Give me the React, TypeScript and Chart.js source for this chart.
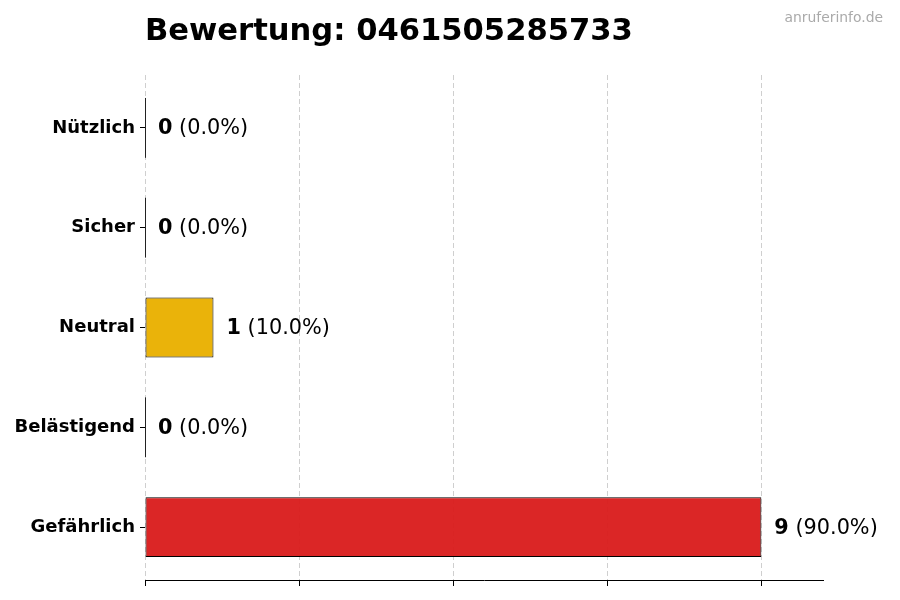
import React, { useEffect, useRef } from "react";
import { Chart, registerables } from "chart.js";

Chart.register(...registerables);

const TITLE = "Bewertung: 0461505285733";
const WATERMARK = "anruferinfo.de";
const categories = ["Nützlich", "Sicher", "Neutral", "Belästigend", "Gefährlich"];
const counts = [0, 0, 1, 0, 9];
const percentages = [0.0, 0.0, 10.0, 0.0, 90.0];
const barColors = [
  "rgba(22,163,74,0.95)",
  "rgba(37,99,235,0.95)",
  "rgba(233,176,0,0.96)",
  "rgba(234,88,12,0.95)",
  "rgba(218,29,29,0.96)",
];
const xTicks = [0, 2.25, 4.5, 6.75, 9];
const xMax = 9.9;
const yMin = -0.53;
const yMax = 4.53;

const FONT = "'DejaVu Sans', sans-serif";

const overlayPlugin = {
  id: "overlay",
  afterDatasetsDraw(chart: any) {
    const ctx = chart.ctx;
    const xs = chart.scales.x;
    const ys = chart.scales.y;
    const meta = chart.getDatasetMeta(0);
    ctx.save();
    counts.forEach((v, i) => {
      const yc = ys.getPixelForValue(i);
      const x0 = xs.getPixelForValue(0);
      const half = (meta.data[i] as any).height / 2;
      if (v === 0) {
        ctx.strokeStyle = "#222";
        ctx.lineWidth = 1;
        ctx.beginPath();
        ctx.moveTo(Math.round(x0) + 0.5, yc - half);
        ctx.lineTo(Math.round(x0) + 0.5, yc + half);
        ctx.stroke();
      }
      const xe = xs.getPixelForValue(v) + 13;
      ctx.textBaseline = "middle";
      ctx.textAlign = "left";
      ctx.fillStyle = "#000";
      ctx.font = `bold 20.8px ${FONT}`;
      const a = String(v);
      ctx.fillText(a, xe, yc + 1);
      const w = ctx.measureText(a).width;
      ctx.font = `20.8px ${FONT}`;
      ctx.fillText(` (${percentages[i].toFixed(1)}%)`, xe + w, yc + 1);
    });
    ctx.restore();
  },
  afterDraw(chart: any) {
    const ctx = chart.ctx;
    ctx.save();
    ctx.fillStyle = "#000";
    ctx.textAlign = "left";
    ctx.textBaseline = "alphabetic";
    ctx.font = `bold 30.6px ${FONT}`;
    ctx.fillText(TITLE, 145, 40);
    ctx.fillStyle = "#aaaaaa";
    ctx.textAlign = "right";
    ctx.font = `13.9px ${FONT}`;
    ctx.fillText(WATERMARK, 883, 22);
    ctx.restore();
  },
};

export default function App() {
  const ref = useRef<HTMLCanvasElement | null>(null);
  useEffect(() => {
    if (!ref.current) return;
    const chart = new Chart(ref.current, {
      type: "bar",
      data: {
        labels: categories,
        datasets: [
          {
            data: counts.map((c, i) => ({ x: c, y: i })),
            backgroundColor: barColors,
            borderColor: "#000",
            borderWidth: 1,
            borderSkipped: false,
            barPercentage: 0.6,
            categoryPercentage: 1,
          },
        ],
      },
      options: {
        indexAxis: "y",
        animation: false,
        responsive: false,
        devicePixelRatio: 1,
        layout: { padding: { left: 0, top: 75, right: 77, bottom: 14 } },
        plugins: { legend: { display: false }, tooltip: { enabled: false }, title: { display: false } },
        scales: {
          x: {
            type: "linear",
            min: 0,
            max: xMax,
            afterBuildTicks: (s: any) => {
              s.ticks = xTicks.map((v) => ({ value: v }));
            },
            afterFit: (s: any) => {
              s.height = 6;
            },
            ticks: { display: false },
            grid: {
              color: "#cfcfcf",
              lineWidth: 1,
              drawTicks: true,
              tickLength: 6,
              tickColor: "#000",
              tickBorderDash: [],
            } as any,
            border: { display: true, color: "#000", width: 1, dash: [5, 3] },
          },
          y: {
            type: "linear",
            reverse: true,
            offset: false,
            min: yMin,
            max: yMax,
            afterBuildTicks: (s: any) => {
              s.ticks = categories.map((_, i) => ({ value: i }));
            },
            afterFit: (s: any) => {
              s.width = 145;
            },
            ticks: {
              color: "#000",
              padding: 5,
              font: { family: FONT, size: 18, weight: "bold" },
              callback: (v: any) => categories[Math.round(Number(v))] ?? "",
            },
            grid: {
              offset: false,
              drawOnChartArea: false,
              drawTicks: true,
              tickLength: 5,
              tickColor: "#000",
              color: "#000",
            },
            border: { display: false },
          },
        },
      },
      plugins: [overlayPlugin],
    } as any);
    return () => chart.destroy();
  }, []);
  return (
    <div style={{ position: "fixed", left: 0, top: 0, width: 900, height: 600, background: "#fff" }}>
      <canvas ref={ref} width={900} height={600} style={{ width: 900, height: 600 }} />
    </div>
  );
}
